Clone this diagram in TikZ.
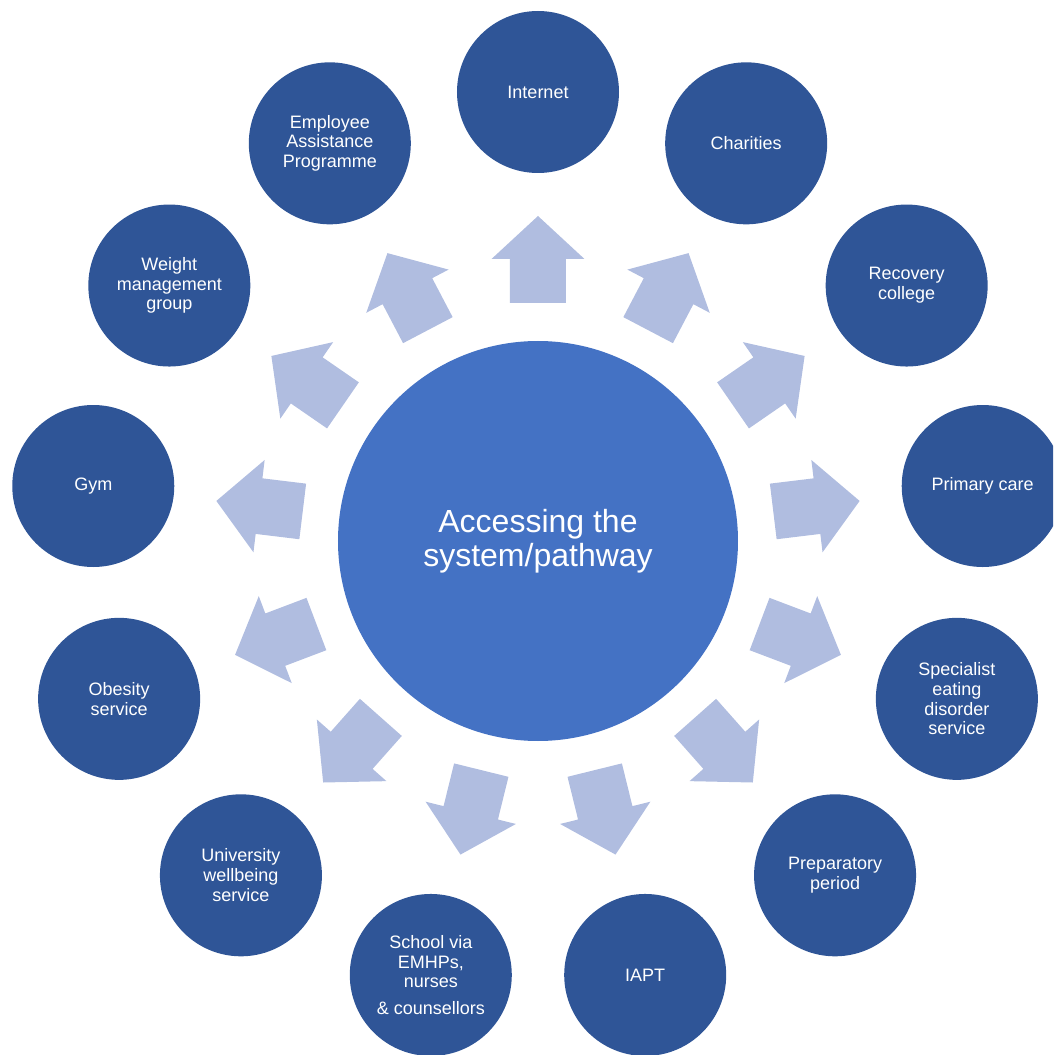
\documentclass[tikz,border=0pt]{standalone}
\usepackage{fontspec}
\setmainfont{Liberation Sans}
\definecolor{outerblue}{HTML}{2F5597}
\definecolor{centerblue}{HTML}{4472C4}
\definecolor{arrowblue}{HTML}{B0BDE0}
\tikzset{
  outer/.style={circle, fill=outerblue, draw=none, minimum size=162pt, inner sep=0pt,
    text=white, align=center, font=\fontsize{18}{19.8}\selectfont},
  hub/.style={circle, fill=centerblue, draw=none, minimum size=400pt, inner sep=0pt,
    text=white, align=center, font=\fontsize{32}{34}\selectfont},
  blockarrow/.style={fill=arrowblue, draw=none}
}
\begin{document}
\begin{tikzpicture}[x=1pt,y=1pt]
\useasboundingbox (-538,540) rectangle (515,-515);
\clip (-538,540) rectangle (515,-515);
\node[hub] (hub) at (0,-1) {Accessing the\\system/pathway};
\foreach \k/\txt in {0/{Internet},1/{Charities},2/{Recovery\\college},3/{Primary care},
  4/{Specialist\\eating\\disorder\\service},5/{Preparatory\\period},6/{IAPT},
  7/{School via\\EMHPs,\\nurses\\[7pt]\& counsellors},8/{University\\wellbeing\\service},
  9/{Obesity\\service},10/{Gym},11/{Weight\\management\\group},
  12/{Employee\\Assistance\\Programme}}{
  \pgfmathsetmacro{\ang}{90-\k*360/13}
  \node[outer] (c\k) at (\ang:448) {\txt};
  \fill[blockarrow, rotate=\ang] (237,-28) -- (281,-28) -- (281,-46.5) -- (324,0)
     -- (281,46.5) -- (281,28) -- (237,28) -- cycle;
}
\end{tikzpicture}
\end{document}
